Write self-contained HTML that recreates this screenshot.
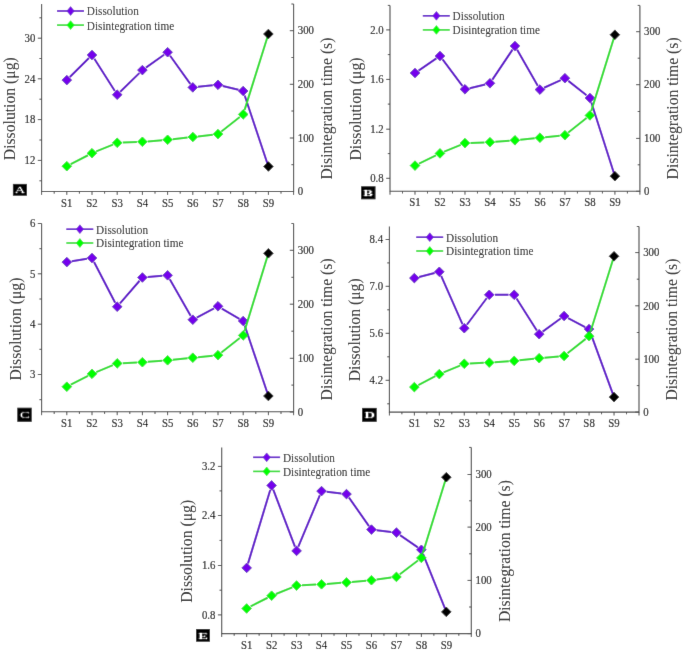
<!DOCTYPE html>
<html><head><meta charset="utf-8"><style>
html,body{margin:0;padding:0;background:#fff;}
svg{display:block;will-change:transform;}
.t,.l,.ti{stroke:#0a0a0a;stroke-width:0.0px;}
.t{stroke-width:0.15px;}
.t{font-family:"Liberation Serif",serif;font-size:11.5px;fill:#0a0a0a;}
.l{font-family:"Liberation Serif",serif;font-size:12.2px;fill:#0a0a0a;}
.ti{font-family:"Liberation Serif",serif;font-size:15.7px;fill:#0a0a0a;}
.bx{font-family:"Liberation Serif",serif;font-size:9px;font-weight:bold;fill:#fff;}
</style></head><body>
<svg width="685" height="652" viewBox="0 0 685 652">
<defs><filter id="bl" x="0" y="0" width="1" height="1"><feConvolveMatrix order="3" kernelMatrix="0.00524 0.06192 0.00524 0.06192 0.73137 0.06192 0.00524 0.06192 0.00524" edgeMode="duplicate" preserveAlpha="false"/></filter></defs>
<rect width="685" height="652" fill="#fff"/>
<g filter="url(#bl)"><rect width="685" height="652" fill="#fff"/>
<path d="M41.6 4.0V191.5H293.6V4.0" fill="none" stroke="#444" stroke-width="1.1"/>
<text transform="translate(35.30 41.90) scale(0.94 1)" text-anchor="end" class="t">30</text>
<text transform="translate(35.30 82.50) scale(0.94 1)" text-anchor="end" class="t">24</text>
<text transform="translate(35.30 123.30) scale(0.94 1)" text-anchor="end" class="t">18</text>
<text transform="translate(35.30 164.10) scale(0.94 1)" text-anchor="end" class="t">12</text>
<text transform="translate(297.80 34.40) scale(0.94 1)" class="t">300</text>
<text transform="translate(297.80 88.00) scale(0.94 1)" class="t">200</text>
<text transform="translate(297.80 141.70) scale(0.94 1)" class="t">100</text>
<text transform="translate(297.80 195.20) scale(0.94 1)" class="t">0</text>
<path d="M37.80 38.2H41.6M37.80 78.8H41.6M37.80 119.6H41.6M37.80 160.4H41.6M39.40 17.8H41.6M39.40 58.5H41.6M39.40 99.2H41.6M39.40 140.0H41.6M39.40 180.8H41.6M289.80 30.7H293.6M289.80 84.3H293.6M289.80 138.0H293.6M289.80 191.5H293.6M291.40 4.0H293.6M291.40 57.5H293.6M291.40 111.0H293.6M291.40 164.7H293.6M41.60 191.5V194.90M66.80 191.5V194.90M92.00 191.5V194.90M117.20 191.5V194.90M142.40 191.5V194.90M167.60 191.5V194.90M192.80 191.5V194.90M218.00 191.5V194.90M243.20 191.5V194.90M268.40 191.5V194.90M293.60 191.5V194.90M54.20 191.5V193.70M79.40 191.5V193.70M104.60 191.5V193.70M129.80 191.5V193.70M155.00 191.5V193.70M180.20 191.5V193.70M205.40 191.5V193.70M230.60 191.5V193.70M255.80 191.5V193.70M281.00 191.5V193.70" stroke="#444" stroke-width="1"/>
<text transform="translate(66.80 206.50) scale(0.94 1)" text-anchor="middle" class="t">S1</text>
<text transform="translate(92.00 206.50) scale(0.94 1)" text-anchor="middle" class="t">S2</text>
<text transform="translate(117.20 206.50) scale(0.94 1)" text-anchor="middle" class="t">S3</text>
<text transform="translate(142.40 206.50) scale(0.94 1)" text-anchor="middle" class="t">S4</text>
<text transform="translate(167.60 206.50) scale(0.94 1)" text-anchor="middle" class="t">S5</text>
<text transform="translate(192.80 206.50) scale(0.94 1)" text-anchor="middle" class="t">S6</text>
<text transform="translate(218.00 206.50) scale(0.94 1)" text-anchor="middle" class="t">S7</text>
<text transform="translate(243.20 206.50) scale(0.94 1)" text-anchor="middle" class="t">S8</text>
<text transform="translate(268.40 206.50) scale(0.94 1)" text-anchor="middle" class="t">S9</text>
<path d="M69.84 77.07L88.96 58.03M94.35 58.70L114.85 91.00M120.27 91.70L139.33 73.10M145.94 67.59L164.06 54.71M170.13 55.73L190.27 83.87M198.05 86.86L212.75 85.34M222.73 85.96L238.47 89.84M244.69 95.45L268.40 166.50" fill="none" stroke="#5a00c8" stroke-width="2"/>
<path d="M66.80 75.30L71.60 80.10L66.80 84.90L62.00 80.10Z" fill="#7400ec" stroke="#4c00b0" stroke-width="0.8"/>
<path d="M92.00 50.20L96.80 55.00L92.00 59.80L87.20 55.00Z" fill="#7400ec" stroke="#4c00b0" stroke-width="0.8"/>
<path d="M117.20 89.90L122.00 94.70L117.20 99.50L112.40 94.70Z" fill="#7400ec" stroke="#4c00b0" stroke-width="0.8"/>
<path d="M142.40 65.30L147.20 70.10L142.40 74.90L137.60 70.10Z" fill="#7400ec" stroke="#4c00b0" stroke-width="0.8"/>
<path d="M167.60 47.40L172.40 52.20L167.60 57.00L162.80 52.20Z" fill="#7400ec" stroke="#4c00b0" stroke-width="0.8"/>
<path d="M192.80 82.60L197.60 87.40L192.80 92.20L188.00 87.40Z" fill="#7400ec" stroke="#4c00b0" stroke-width="0.8"/>
<path d="M218.00 80.00L222.80 84.80L218.00 89.60L213.20 84.80Z" fill="#7400ec" stroke="#4c00b0" stroke-width="0.8"/>
<path d="M243.20 86.20L248.00 91.00L243.20 95.80L238.40 91.00Z" fill="#7400ec" stroke="#4c00b0" stroke-width="0.8"/>
<path d="M70.77 164.15L88.03 155.25M96.23 151.45L112.97 144.55M122.72 142.58L136.88 142.02M147.74 141.38L162.26 140.22M172.81 139.22L187.59 137.58M198.00 136.40L212.80 134.70M221.40 131.44L239.80 117.06M244.61 109.89L268.40 34.00" fill="none" stroke="#28dc28" stroke-width="2"/>
<path d="M66.80 161.40L71.60 166.20L66.80 171.00L62.00 166.20Z" fill="#00ff00" stroke="#00d800" stroke-width="0.8"/>
<path d="M92.00 148.40L96.80 153.20L92.00 158.00L87.20 153.20Z" fill="#00ff00" stroke="#00d800" stroke-width="0.8"/>
<path d="M117.20 138.00L122.00 142.80L117.20 147.60L112.40 142.80Z" fill="#00ff00" stroke="#00d800" stroke-width="0.8"/>
<path d="M142.40 137.00L147.20 141.80L142.40 146.60L137.60 141.80Z" fill="#00ff00" stroke="#00d800" stroke-width="0.8"/>
<path d="M167.60 135.00L172.40 139.80L167.60 144.60L162.80 139.80Z" fill="#00ff00" stroke="#00d800" stroke-width="0.8"/>
<path d="M192.80 132.20L197.60 137.00L192.80 141.80L188.00 137.00Z" fill="#00ff00" stroke="#00d800" stroke-width="0.8"/>
<path d="M218.00 129.30L222.80 134.10L218.00 138.90L213.20 134.10Z" fill="#00ff00" stroke="#00d800" stroke-width="0.8"/>
<path d="M243.20 109.60L248.00 114.40L243.20 119.20L238.40 114.40Z" fill="#00ff00" stroke="#00d800" stroke-width="0.8"/>
<path d="M268.40 161.70L273.20 166.50L268.40 171.30L263.60 166.50Z" fill="#000" stroke="#000" stroke-width="0.8"/>
<path d="M268.40 29.20L273.20 34.00L268.40 38.80L263.60 34.00Z" fill="#000" stroke="#000" stroke-width="0.8"/>
<path d="M57.0 11.0h27" stroke="#5a00c8" stroke-width="1.6"/>
<path d="M70.60 6.60L74.30 11.00L70.60 15.40L66.90 11.00Z" fill="#7400ec" stroke="#4c00b0" stroke-width="0.5"/>
<text transform="translate(86.80 15.40) scale(0.925 1)" class="l">Dissolution</text>
<path d="M57.0 25.1h27" stroke="#28dc28" stroke-width="1.6"/>
<path d="M70.60 20.70L74.30 25.10L70.60 29.50L66.90 25.10Z" fill="#00ff00" stroke="#00d800" stroke-width="0.5"/>
<text transform="translate(86.80 29.50) scale(0.925 1)" class="l">Disintegration time</text>
<text transform="translate(15.00 160.20) rotate(-90)" class="ti">Dissolution (μg)</text>
<text transform="translate(332.00 179.60) rotate(-90)" class="ti">Disintegration time (s)</text>
<rect x="12.9" y="183.9" width="14.0" height="11.8" fill="#000"/>
<text transform="translate(20.00 192.60) scale(1.6 1)" text-anchor="middle" class="bx" style="font-weight:normal">A</text>
<path d="M390.0 5.4V191.3H639.9V5.4" fill="none" stroke="#444" stroke-width="1.1"/>
<text transform="translate(383.70 33.60) scale(0.94 1)" text-anchor="end" class="t">2.0</text>
<text transform="translate(383.70 83.10) scale(0.94 1)" text-anchor="end" class="t">1.6</text>
<text transform="translate(383.70 132.90) scale(0.94 1)" text-anchor="end" class="t">1.2</text>
<text transform="translate(383.70 182.00) scale(0.94 1)" text-anchor="end" class="t">0.8</text>
<text transform="translate(644.10 35.40) scale(0.94 1)" class="t">300</text>
<text transform="translate(644.10 88.40) scale(0.94 1)" class="t">200</text>
<text transform="translate(644.10 142.10) scale(0.94 1)" class="t">100</text>
<text transform="translate(644.10 195.00) scale(0.94 1)" class="t">0</text>
<path d="M386.20 29.9H390.0M386.20 79.4H390.0M386.20 129.2H390.0M386.20 178.3H390.0M387.80 5.4H390.0M387.80 54.6H390.0M387.80 104.1H390.0M387.80 153.6H390.0M636.10 31.7H639.9M636.10 84.7H639.9M636.10 138.4H639.9M636.10 191.3H639.9M637.70 5.4H639.9M637.70 58.2H639.9M637.70 111.5H639.9M637.70 164.8H639.9M390.00 191.3V194.70M414.99 191.3V194.70M439.98 191.3V194.70M464.97 191.3V194.70M489.96 191.3V194.70M514.95 191.3V194.70M539.94 191.3V194.70M564.93 191.3V194.70M589.92 191.3V194.70M614.91 191.3V194.70M639.90 191.3V194.70M402.50 191.3V193.50M427.49 191.3V193.50M452.48 191.3V193.50M477.46 191.3V193.50M502.45 191.3V193.50M527.44 191.3V193.50M552.43 191.3V193.50M577.42 191.3V193.50M602.41 191.3V193.50M627.40 191.3V193.50" stroke="#444" stroke-width="1"/>
<text transform="translate(414.99 206.30) scale(0.94 1)" text-anchor="middle" class="t">S1</text>
<text transform="translate(439.98 206.30) scale(0.94 1)" text-anchor="middle" class="t">S2</text>
<text transform="translate(464.97 206.30) scale(0.94 1)" text-anchor="middle" class="t">S3</text>
<text transform="translate(489.96 206.30) scale(0.94 1)" text-anchor="middle" class="t">S4</text>
<text transform="translate(514.95 206.30) scale(0.94 1)" text-anchor="middle" class="t">S5</text>
<text transform="translate(539.94 206.30) scale(0.94 1)" text-anchor="middle" class="t">S6</text>
<text transform="translate(564.93 206.30) scale(0.94 1)" text-anchor="middle" class="t">S7</text>
<text transform="translate(589.92 206.30) scale(0.94 1)" text-anchor="middle" class="t">S8</text>
<text transform="translate(614.91 206.30) scale(0.94 1)" text-anchor="middle" class="t">S9</text>
<path d="M418.59 70.55L436.38 58.45M442.58 59.46L462.37 85.84M469.72 88.16L485.21 84.44M492.39 79.68L512.52 49.62M517.15 49.83L537.74 85.77M544.06 87.72L560.81 80.08M568.31 80.88L586.54 95.32M591.36 102.49L614.91 176.20" fill="none" stroke="#5a00c8" stroke-width="2"/>
<path d="M414.99 68.20L419.79 73.00L414.99 77.80L410.19 73.00Z" fill="#7400ec" stroke="#4c00b0" stroke-width="0.8"/>
<path d="M439.98 51.20L444.78 56.00L439.98 60.80L435.18 56.00Z" fill="#7400ec" stroke="#4c00b0" stroke-width="0.8"/>
<path d="M464.97 84.50L469.77 89.30L464.97 94.10L460.17 89.30Z" fill="#7400ec" stroke="#4c00b0" stroke-width="0.8"/>
<path d="M489.96 78.50L494.76 83.30L489.96 88.10L485.16 83.30Z" fill="#7400ec" stroke="#4c00b0" stroke-width="0.8"/>
<path d="M514.95 41.20L519.75 46.00L514.95 50.80L510.15 46.00Z" fill="#7400ec" stroke="#4c00b0" stroke-width="0.8"/>
<path d="M539.94 84.80L544.74 89.60L539.94 94.40L535.14 89.60Z" fill="#7400ec" stroke="#4c00b0" stroke-width="0.8"/>
<path d="M564.93 73.40L569.73 78.20L564.93 83.00L560.13 78.20Z" fill="#7400ec" stroke="#4c00b0" stroke-width="0.8"/>
<path d="M589.92 93.20L594.72 98.00L589.92 102.80L585.12 98.00Z" fill="#7400ec" stroke="#4c00b0" stroke-width="0.8"/>
<path d="M419.02 163.63L435.95 155.37M444.21 151.66L460.74 144.84M470.50 142.90L484.43 142.40M495.32 141.79L509.59 140.71M520.19 139.75L534.70 138.25M545.20 137.17L559.67 135.73M568.31 132.52L586.54 118.08M591.32 110.88L614.91 34.70" fill="none" stroke="#28dc28" stroke-width="2"/>
<path d="M414.99 160.80L419.79 165.60L414.99 170.40L410.19 165.60Z" fill="#00ff00" stroke="#00d800" stroke-width="0.8"/>
<path d="M439.98 148.60L444.78 153.40L439.98 158.20L435.18 153.40Z" fill="#00ff00" stroke="#00d800" stroke-width="0.8"/>
<path d="M464.97 138.30L469.77 143.10L464.97 147.90L460.17 143.10Z" fill="#00ff00" stroke="#00d800" stroke-width="0.8"/>
<path d="M489.96 137.40L494.76 142.20L489.96 147.00L485.16 142.20Z" fill="#00ff00" stroke="#00d800" stroke-width="0.8"/>
<path d="M514.95 135.50L519.75 140.30L514.95 145.10L510.15 140.30Z" fill="#00ff00" stroke="#00d800" stroke-width="0.8"/>
<path d="M539.94 132.90L544.74 137.70L539.94 142.50L535.14 137.70Z" fill="#00ff00" stroke="#00d800" stroke-width="0.8"/>
<path d="M564.93 130.40L569.73 135.20L564.93 140.00L560.13 135.20Z" fill="#00ff00" stroke="#00d800" stroke-width="0.8"/>
<path d="M589.92 110.60L594.72 115.40L589.92 120.20L585.12 115.40Z" fill="#00ff00" stroke="#00d800" stroke-width="0.8"/>
<path d="M614.91 171.40L619.71 176.20L614.91 181.00L610.11 176.20Z" fill="#000" stroke="#000" stroke-width="0.8"/>
<path d="M614.91 29.90L619.71 34.70L614.91 39.50L610.11 34.70Z" fill="#000" stroke="#000" stroke-width="0.8"/>
<path d="M422.8 15.8h27" stroke="#5a00c8" stroke-width="1.6"/>
<path d="M436.40 11.40L440.10 15.80L436.40 20.20L432.70 15.80Z" fill="#7400ec" stroke="#4c00b0" stroke-width="0.5"/>
<text transform="translate(452.60 20.20) scale(0.925 1)" class="l">Dissolution</text>
<path d="M422.8 29.9h27" stroke="#28dc28" stroke-width="1.6"/>
<path d="M436.40 25.50L440.10 29.90L436.40 34.30L432.70 29.90Z" fill="#00ff00" stroke="#00d800" stroke-width="0.5"/>
<text transform="translate(452.60 34.30) scale(0.925 1)" class="l">Disintegration time</text>
<text transform="translate(361.30 160.50) rotate(-90)" class="ti">Dissolution (μg)</text>
<text transform="translate(677.80 179.40) rotate(-90)" class="ti">Disintegration time (s)</text>
<rect x="361.1" y="186.3" width="14.4" height="13.0" fill="#000"/>
<text transform="translate(368.10 195.80) scale(1.6 1)" text-anchor="middle" class="bx">B</text>
<path d="M41.6 223.5V411.8H293.6V223.5" fill="none" stroke="#444" stroke-width="1.1"/>
<text transform="translate(35.30 227.20) scale(0.94 1)" text-anchor="end" class="t">6</text>
<text transform="translate(35.30 277.50) scale(0.94 1)" text-anchor="end" class="t">5</text>
<text transform="translate(35.30 327.90) scale(0.94 1)" text-anchor="end" class="t">4</text>
<text transform="translate(35.30 378.20) scale(0.94 1)" text-anchor="end" class="t">3</text>
<text transform="translate(297.80 254.00) scale(0.94 1)" class="t">300</text>
<text transform="translate(297.80 307.90) scale(0.94 1)" class="t">200</text>
<text transform="translate(297.80 362.00) scale(0.94 1)" class="t">100</text>
<text transform="translate(297.80 415.70) scale(0.94 1)" class="t">0</text>
<path d="M37.80 223.5H41.6M37.80 273.8H41.6M37.80 324.2H41.6M37.80 374.5H41.6M39.40 248.7H41.6M39.40 299.0H41.6M39.40 349.3H41.6M39.40 399.7H41.6M289.80 250.3H293.6M289.80 304.2H293.6M289.80 358.3H293.6M289.80 412.0H293.6M291.40 223.5H293.6M291.40 277.3H293.6M291.40 331.2H293.6M291.40 385.1H293.6M41.60 411.8V415.20M66.80 411.8V415.20M92.00 411.8V415.20M117.20 411.8V415.20M142.40 411.8V415.20M167.60 411.8V415.20M192.80 411.8V415.20M218.00 411.8V415.20M243.20 411.8V415.20M268.40 411.8V415.20M293.60 411.8V415.20M54.20 411.8V414.00M79.40 411.8V414.00M104.60 411.8V414.00M129.80 411.8V414.00M155.00 411.8V414.00M180.20 411.8V414.00M205.40 411.8V414.00M230.60 411.8V414.00M255.80 411.8V414.00M281.00 411.8V414.00" stroke="#444" stroke-width="1"/>
<text transform="translate(66.80 426.80) scale(0.94 1)" text-anchor="middle" class="t">S1</text>
<text transform="translate(92.00 426.80) scale(0.94 1)" text-anchor="middle" class="t">S2</text>
<text transform="translate(117.20 426.80) scale(0.94 1)" text-anchor="middle" class="t">S3</text>
<text transform="translate(142.40 426.80) scale(0.94 1)" text-anchor="middle" class="t">S4</text>
<text transform="translate(167.60 426.80) scale(0.94 1)" text-anchor="middle" class="t">S5</text>
<text transform="translate(192.80 426.80) scale(0.94 1)" text-anchor="middle" class="t">S6</text>
<text transform="translate(218.00 426.80) scale(0.94 1)" text-anchor="middle" class="t">S7</text>
<text transform="translate(243.20 426.80) scale(0.94 1)" text-anchor="middle" class="t">S8</text>
<text transform="translate(268.40 426.80) scale(0.94 1)" text-anchor="middle" class="t">S9</text>
<path d="M71.82 261.28L86.98 258.82M94.05 261.96L115.15 302.74M120.01 303.44L139.59 280.76M147.71 277.04L162.29 275.76M169.78 279.14L190.62 315.86M196.73 317.61L214.07 308.39M221.81 308.52L239.39 318.78M244.69 325.45L268.40 396.00" fill="none" stroke="#5a00c8" stroke-width="2"/>
<path d="M66.80 257.30L71.60 262.10L66.80 266.90L62.00 262.10Z" fill="#7400ec" stroke="#4c00b0" stroke-width="0.8"/>
<path d="M92.00 253.20L96.80 258.00L92.00 262.80L87.20 258.00Z" fill="#7400ec" stroke="#4c00b0" stroke-width="0.8"/>
<path d="M117.20 301.90L122.00 306.70L117.20 311.50L112.40 306.70Z" fill="#7400ec" stroke="#4c00b0" stroke-width="0.8"/>
<path d="M142.40 272.70L147.20 277.50L142.40 282.30L137.60 277.50Z" fill="#7400ec" stroke="#4c00b0" stroke-width="0.8"/>
<path d="M167.60 270.50L172.40 275.30L167.60 280.10L162.80 275.30Z" fill="#7400ec" stroke="#4c00b0" stroke-width="0.8"/>
<path d="M192.80 314.90L197.60 319.70L192.80 324.50L188.00 319.70Z" fill="#7400ec" stroke="#4c00b0" stroke-width="0.8"/>
<path d="M218.00 301.50L222.80 306.30L218.00 311.10L213.20 306.30Z" fill="#7400ec" stroke="#4c00b0" stroke-width="0.8"/>
<path d="M243.20 316.20L248.00 321.00L243.20 325.80L238.40 321.00Z" fill="#7400ec" stroke="#4c00b0" stroke-width="0.8"/>
<path d="M70.78 384.66L88.02 375.84M96.23 372.05L112.97 365.15M122.68 363.14L136.92 362.46M147.76 361.80L162.24 360.70M172.85 359.76L187.55 358.24M198.06 357.18L212.74 355.72M221.40 352.53L239.80 338.07M244.59 330.87L268.40 253.30" fill="none" stroke="#28dc28" stroke-width="2"/>
<path d="M66.80 381.90L71.60 386.70L66.80 391.50L62.00 386.70Z" fill="#00ff00" stroke="#00d800" stroke-width="0.8"/>
<path d="M92.00 369.00L96.80 373.80L92.00 378.60L87.20 373.80Z" fill="#00ff00" stroke="#00d800" stroke-width="0.8"/>
<path d="M117.20 358.60L122.00 363.40L117.20 368.20L112.40 363.40Z" fill="#00ff00" stroke="#00d800" stroke-width="0.8"/>
<path d="M142.40 357.40L147.20 362.20L142.40 367.00L137.60 362.20Z" fill="#00ff00" stroke="#00d800" stroke-width="0.8"/>
<path d="M167.60 355.50L172.40 360.30L167.60 365.10L162.80 360.30Z" fill="#00ff00" stroke="#00d800" stroke-width="0.8"/>
<path d="M192.80 352.90L197.60 357.70L192.80 362.50L188.00 357.70Z" fill="#00ff00" stroke="#00d800" stroke-width="0.8"/>
<path d="M218.00 350.40L222.80 355.20L218.00 360.00L213.20 355.20Z" fill="#00ff00" stroke="#00d800" stroke-width="0.8"/>
<path d="M243.20 330.60L248.00 335.40L243.20 340.20L238.40 335.40Z" fill="#00ff00" stroke="#00d800" stroke-width="0.8"/>
<path d="M268.40 391.20L273.20 396.00L268.40 400.80L263.60 396.00Z" fill="#000" stroke="#000" stroke-width="0.8"/>
<path d="M268.40 248.50L273.20 253.30L268.40 258.10L263.60 253.30Z" fill="#000" stroke="#000" stroke-width="0.8"/>
<path d="M66.3 229.2h27" stroke="#5a00c8" stroke-width="1.6"/>
<path d="M79.90 224.80L83.60 229.20L79.90 233.60L76.20 229.20Z" fill="#7400ec" stroke="#4c00b0" stroke-width="0.5"/>
<text transform="translate(96.10 233.60) scale(0.925 1)" class="l">Dissolution</text>
<path d="M66.3 243.0h27" stroke="#28dc28" stroke-width="1.6"/>
<path d="M79.90 238.60L83.60 243.00L79.90 247.40L76.20 243.00Z" fill="#00ff00" stroke="#00d800" stroke-width="0.5"/>
<text transform="translate(96.10 247.40) scale(0.925 1)" class="l">Disintegration time</text>
<text transform="translate(20.50 380.60) rotate(-90)" class="ti">Dissolution (μg)</text>
<text transform="translate(332.00 400.40) rotate(-90)" class="ti">Disintegration time (s)</text>
<rect x="17.3" y="407.7" width="14.4" height="14.1" fill="#000"/>
<text transform="translate(24.70 417.80) scale(1.6 1)" text-anchor="middle" class="bx" style="font-weight:normal">C</text>
<path d="M389.4 226.5V412.1H639.0V226.5" fill="none" stroke="#444" stroke-width="1.1"/>
<text transform="translate(383.10 243.20) scale(0.94 1)" text-anchor="end" class="t">8.4</text>
<text transform="translate(383.10 290.00) scale(0.94 1)" text-anchor="end" class="t">7.0</text>
<text transform="translate(383.10 337.00) scale(0.94 1)" text-anchor="end" class="t">5.6</text>
<text transform="translate(383.10 384.00) scale(0.94 1)" text-anchor="end" class="t">4.2</text>
<text transform="translate(643.20 256.30) scale(0.94 1)" class="t">300</text>
<text transform="translate(643.20 309.50) scale(0.94 1)" class="t">200</text>
<text transform="translate(643.20 362.90) scale(0.94 1)" class="t">100</text>
<text transform="translate(643.20 415.80) scale(0.94 1)" class="t">0</text>
<path d="M385.60 239.5H389.4M385.60 286.3H389.4M385.60 333.3H389.4M385.60 380.3H389.4M387.20 262.9H389.4M387.20 309.8H389.4M387.20 356.8H389.4M387.20 403.8H389.4M635.20 252.6H639.0M635.20 305.8H639.0M635.20 359.2H639.0M635.20 412.1H639.0M636.80 226.5H639.0M636.80 279.2H639.0M636.80 332.5H639.0M636.80 385.6H639.0M389.40 412.1V415.50M414.36 412.1V415.50M439.32 412.1V415.50M464.28 412.1V415.50M489.24 412.1V415.50M514.20 412.1V415.50M539.16 412.1V415.50M564.12 412.1V415.50M589.08 412.1V415.50M614.04 412.1V415.50M639.00 412.1V415.50M401.88 412.1V414.30M426.84 412.1V414.30M451.80 412.1V414.30M476.76 412.1V414.30M501.72 412.1V414.30M526.68 412.1V414.30M551.64 412.1V414.30M576.60 412.1V414.30M601.56 412.1V414.30M626.52 412.1V414.30" stroke="#444" stroke-width="1"/>
<text transform="translate(414.36 427.10) scale(0.94 1)" text-anchor="middle" class="t">S1</text>
<text transform="translate(439.32 427.10) scale(0.94 1)" text-anchor="middle" class="t">S2</text>
<text transform="translate(464.28 427.10) scale(0.94 1)" text-anchor="middle" class="t">S3</text>
<text transform="translate(489.24 427.10) scale(0.94 1)" text-anchor="middle" class="t">S4</text>
<text transform="translate(514.20 427.10) scale(0.94 1)" text-anchor="middle" class="t">S5</text>
<text transform="translate(539.16 427.10) scale(0.94 1)" text-anchor="middle" class="t">S6</text>
<text transform="translate(564.12 427.10) scale(0.94 1)" text-anchor="middle" class="t">S7</text>
<text transform="translate(589.08 427.10) scale(0.94 1)" text-anchor="middle" class="t">S8</text>
<text transform="translate(614.04 427.10) scale(0.94 1)" text-anchor="middle" class="t">S9</text>
<path d="M419.07 276.91L434.61 272.99M441.16 275.95L462.44 324.05M466.87 324.73L486.65 298.27M494.94 294.80L508.50 294.80M516.54 298.50L536.82 330.50M542.66 331.65L560.62 318.55M568.06 318.07L585.14 327.03M590.68 333.46L614.04 397.10" fill="none" stroke="#5a00c8" stroke-width="2"/>
<path d="M414.36 273.30L419.16 278.10L414.36 282.90L409.56 278.10Z" fill="#7400ec" stroke="#4c00b0" stroke-width="0.8"/>
<path d="M439.32 267.00L444.12 271.80L439.32 276.60L434.52 271.80Z" fill="#7400ec" stroke="#4c00b0" stroke-width="0.8"/>
<path d="M464.28 323.40L469.08 328.20L464.28 333.00L459.48 328.20Z" fill="#7400ec" stroke="#4c00b0" stroke-width="0.8"/>
<path d="M489.24 290.00L494.04 294.80L489.24 299.60L484.44 294.80Z" fill="#7400ec" stroke="#4c00b0" stroke-width="0.8"/>
<path d="M514.20 290.00L519.00 294.80L514.20 299.60L509.40 294.80Z" fill="#7400ec" stroke="#4c00b0" stroke-width="0.8"/>
<path d="M539.16 329.40L543.96 334.20L539.16 339.00L534.36 334.20Z" fill="#7400ec" stroke="#4c00b0" stroke-width="0.8"/>
<path d="M564.12 311.20L568.92 316.00L564.12 320.80L559.32 316.00Z" fill="#7400ec" stroke="#4c00b0" stroke-width="0.8"/>
<path d="M589.08 324.30L593.88 329.10L589.08 333.90L584.28 329.10Z" fill="#7400ec" stroke="#4c00b0" stroke-width="0.8"/>
<path d="M418.31 385.04L435.37 376.16M443.55 372.35L460.05 365.55M469.76 363.54L483.76 362.86M494.63 362.23L508.81 361.27M519.43 360.33L533.93 358.77M544.47 357.73L558.81 356.47M567.50 353.32L585.70 338.88M590.49 331.68L614.04 256.30" fill="none" stroke="#28dc28" stroke-width="2"/>
<path d="M414.36 382.30L419.16 387.10L414.36 391.90L409.56 387.10Z" fill="#00ff00" stroke="#00d800" stroke-width="0.8"/>
<path d="M439.32 369.30L444.12 374.10L439.32 378.90L434.52 374.10Z" fill="#00ff00" stroke="#00d800" stroke-width="0.8"/>
<path d="M464.28 359.00L469.08 363.80L464.28 368.60L459.48 363.80Z" fill="#00ff00" stroke="#00d800" stroke-width="0.8"/>
<path d="M489.24 357.80L494.04 362.60L489.24 367.40L484.44 362.60Z" fill="#00ff00" stroke="#00d800" stroke-width="0.8"/>
<path d="M514.20 356.10L519.00 360.90L514.20 365.70L509.40 360.90Z" fill="#00ff00" stroke="#00d800" stroke-width="0.8"/>
<path d="M539.16 353.40L543.96 358.20L539.16 363.00L534.36 358.20Z" fill="#00ff00" stroke="#00d800" stroke-width="0.8"/>
<path d="M564.12 351.20L568.92 356.00L564.12 360.80L559.32 356.00Z" fill="#00ff00" stroke="#00d800" stroke-width="0.8"/>
<path d="M589.08 331.40L593.88 336.20L589.08 341.00L584.28 336.20Z" fill="#00ff00" stroke="#00d800" stroke-width="0.8"/>
<path d="M614.04 392.30L618.84 397.10L614.04 401.90L609.24 397.10Z" fill="#000" stroke="#000" stroke-width="0.8"/>
<path d="M614.04 251.50L618.84 256.30L614.04 261.10L609.24 256.30Z" fill="#000" stroke="#000" stroke-width="0.8"/>
<path d="M416.2 237.2h27" stroke="#5a00c8" stroke-width="1.6"/>
<path d="M429.80 232.80L433.50 237.20L429.80 241.60L426.10 237.20Z" fill="#7400ec" stroke="#4c00b0" stroke-width="0.5"/>
<text transform="translate(446.00 241.60) scale(0.925 1)" class="l">Dissolution</text>
<path d="M416.2 251.0h27" stroke="#28dc28" stroke-width="1.6"/>
<path d="M429.80 246.60L433.50 251.00L429.80 255.40L426.10 251.00Z" fill="#00ff00" stroke="#00d800" stroke-width="0.5"/>
<text transform="translate(446.00 255.40) scale(0.925 1)" class="l">Disintegration time</text>
<text transform="translate(359.80 381.30) rotate(-90)" class="ti">Dissolution (μg)</text>
<text transform="translate(677.30 400.60) rotate(-90)" class="ti">Disintegration time (s)</text>
<rect x="362.1" y="407.9" width="14.6" height="13.9" fill="#000"/>
<text transform="translate(369.60 417.70) scale(1.6 1)" text-anchor="middle" class="bx">D</text>
<path d="M221.7 447.4V633.6H471.3V447.4" fill="none" stroke="#444" stroke-width="1.1"/>
<text transform="translate(215.40 470.10) scale(0.94 1)" text-anchor="end" class="t">3.2</text>
<text transform="translate(215.40 519.20) scale(0.94 1)" text-anchor="end" class="t">2.4</text>
<text transform="translate(215.40 569.20) scale(0.94 1)" text-anchor="end" class="t">1.6</text>
<text transform="translate(215.40 618.60) scale(0.94 1)" text-anchor="end" class="t">0.8</text>
<text transform="translate(475.50 478.20) scale(0.94 1)" class="t">300</text>
<text transform="translate(475.50 530.80) scale(0.94 1)" class="t">200</text>
<text transform="translate(475.50 584.10) scale(0.94 1)" class="t">100</text>
<text transform="translate(475.50 637.30) scale(0.94 1)" class="t">0</text>
<path d="M217.90 466.4H221.7M217.90 515.5H221.7M217.90 565.5H221.7M217.90 614.9H221.7M219.50 490.9H221.7M219.50 540.4H221.7M219.50 590.2H221.7M467.50 474.5H471.3M467.50 527.1H471.3M467.50 580.4H471.3M467.50 633.6H471.3M469.10 447.4H471.3M469.10 500.8H471.3M469.10 553.8H471.3M469.10 607.0H471.3M221.70 633.6V637.00M246.66 633.6V637.00M271.62 633.6V637.00M296.58 633.6V637.00M321.54 633.6V637.00M346.50 633.6V637.00M371.46 633.6V637.00M396.42 633.6V637.00M421.38 633.6V637.00M446.34 633.6V637.00M471.30 633.6V637.00M234.18 633.6V635.80M259.14 633.6V635.80M284.10 633.6V635.80M309.06 633.6V635.80M334.02 633.6V635.80M358.98 633.6V635.80M383.94 633.6V635.80M408.90 633.6V635.80M433.86 633.6V635.80M458.82 633.6V635.80" stroke="#444" stroke-width="1"/>
<text transform="translate(246.66 648.60) scale(0.94 1)" text-anchor="middle" class="t">S1</text>
<text transform="translate(271.62 648.60) scale(0.94 1)" text-anchor="middle" class="t">S2</text>
<text transform="translate(296.58 648.60) scale(0.94 1)" text-anchor="middle" class="t">S3</text>
<text transform="translate(321.54 648.60) scale(0.94 1)" text-anchor="middle" class="t">S4</text>
<text transform="translate(346.50 648.60) scale(0.94 1)" text-anchor="middle" class="t">S5</text>
<text transform="translate(371.46 648.60) scale(0.94 1)" text-anchor="middle" class="t">S6</text>
<text transform="translate(396.42 648.60) scale(0.94 1)" text-anchor="middle" class="t">S7</text>
<text transform="translate(421.38 648.60) scale(0.94 1)" text-anchor="middle" class="t">S8</text>
<text transform="translate(446.34 648.60) scale(0.94 1)" text-anchor="middle" class="t">S9</text>
<path d="M248.04 563.35L270.24 489.95M273.26 489.72L294.94 546.58M298.34 546.68L319.78 495.32M326.72 491.72L341.32 493.48M349.00 497.65L368.96 526.05M376.64 530.22L391.24 531.98M400.00 535.07L417.80 547.33M423.09 554.06L446.34 611.90" fill="none" stroke="#5a00c8" stroke-width="2"/>
<path d="M246.66 563.10L251.46 567.90L246.66 572.70L241.86 567.90Z" fill="#7400ec" stroke="#4c00b0" stroke-width="0.8"/>
<path d="M271.62 480.60L276.42 485.40L271.62 490.20L266.82 485.40Z" fill="#7400ec" stroke="#4c00b0" stroke-width="0.8"/>
<path d="M296.58 546.10L301.38 550.90L296.58 555.70L291.78 550.90Z" fill="#7400ec" stroke="#4c00b0" stroke-width="0.8"/>
<path d="M321.54 486.30L326.34 491.10L321.54 495.90L316.74 491.10Z" fill="#7400ec" stroke="#4c00b0" stroke-width="0.8"/>
<path d="M346.50 489.30L351.30 494.10L346.50 498.90L341.70 494.10Z" fill="#7400ec" stroke="#4c00b0" stroke-width="0.8"/>
<path d="M371.46 524.80L376.26 529.60L371.46 534.40L366.66 529.60Z" fill="#7400ec" stroke="#4c00b0" stroke-width="0.8"/>
<path d="M396.42 527.80L401.22 532.60L396.42 537.40L391.62 532.60Z" fill="#7400ec" stroke="#4c00b0" stroke-width="0.8"/>
<path d="M421.38 545.00L426.18 549.80L421.38 554.60L416.58 549.80Z" fill="#7400ec" stroke="#4c00b0" stroke-width="0.8"/>
<path d="M250.63 606.46L267.65 597.74M275.87 593.98L292.33 587.32M302.04 585.32L316.08 584.58M326.90 583.89L341.14 582.81M351.81 581.93L366.15 580.67M376.59 579.52L391.29 577.58M399.86 574.28L417.94 560.52M422.78 553.37L446.34 477.20" fill="none" stroke="#28dc28" stroke-width="2"/>
<path d="M246.66 603.70L251.46 608.50L246.66 613.30L241.86 608.50Z" fill="#00ff00" stroke="#00d800" stroke-width="0.8"/>
<path d="M271.62 590.90L276.42 595.70L271.62 600.50L266.82 595.70Z" fill="#00ff00" stroke="#00d800" stroke-width="0.8"/>
<path d="M296.58 580.80L301.38 585.60L296.58 590.40L291.78 585.60Z" fill="#00ff00" stroke="#00d800" stroke-width="0.8"/>
<path d="M321.54 579.50L326.34 584.30L321.54 589.10L316.74 584.30Z" fill="#00ff00" stroke="#00d800" stroke-width="0.8"/>
<path d="M346.50 577.60L351.30 582.40L346.50 587.20L341.70 582.40Z" fill="#00ff00" stroke="#00d800" stroke-width="0.8"/>
<path d="M371.46 575.40L376.26 580.20L371.46 585.00L366.66 580.20Z" fill="#00ff00" stroke="#00d800" stroke-width="0.8"/>
<path d="M396.42 572.10L401.22 576.90L396.42 581.70L391.62 576.90Z" fill="#00ff00" stroke="#00d800" stroke-width="0.8"/>
<path d="M421.38 553.10L426.18 557.90L421.38 562.70L416.58 557.90Z" fill="#00ff00" stroke="#00d800" stroke-width="0.8"/>
<path d="M446.34 607.10L451.14 611.90L446.34 616.70L441.54 611.90Z" fill="#000" stroke="#000" stroke-width="0.8"/>
<path d="M446.34 472.40L451.14 477.20L446.34 482.00L441.54 477.20Z" fill="#000" stroke="#000" stroke-width="0.8"/>
<path d="M253.1 457.3h27" stroke="#5a00c8" stroke-width="1.6"/>
<path d="M266.70 452.90L270.40 457.30L266.70 461.70L263.00 457.30Z" fill="#7400ec" stroke="#4c00b0" stroke-width="0.5"/>
<text transform="translate(282.90 461.70) scale(0.925 1)" class="l">Dissolution</text>
<path d="M253.1 471.4h27" stroke="#28dc28" stroke-width="1.6"/>
<path d="M266.70 467.00L270.40 471.40L266.70 475.80L263.00 471.40Z" fill="#00ff00" stroke="#00d800" stroke-width="0.5"/>
<text transform="translate(282.90 475.80) scale(0.925 1)" class="l">Disintegration time</text>
<text transform="translate(192.10 602.80) rotate(-90)" class="ti">Dissolution (μg)</text>
<text transform="translate(509.50 622.10) rotate(-90)" class="ti">Disintegration time (s)</text>
<rect x="196.1" y="629.0" width="13.8" height="12.7" fill="#000"/>
<text transform="translate(203.00 638.80) scale(1.6 1)" text-anchor="middle" class="bx">E</text>
</g>
</svg>
</body></html>
